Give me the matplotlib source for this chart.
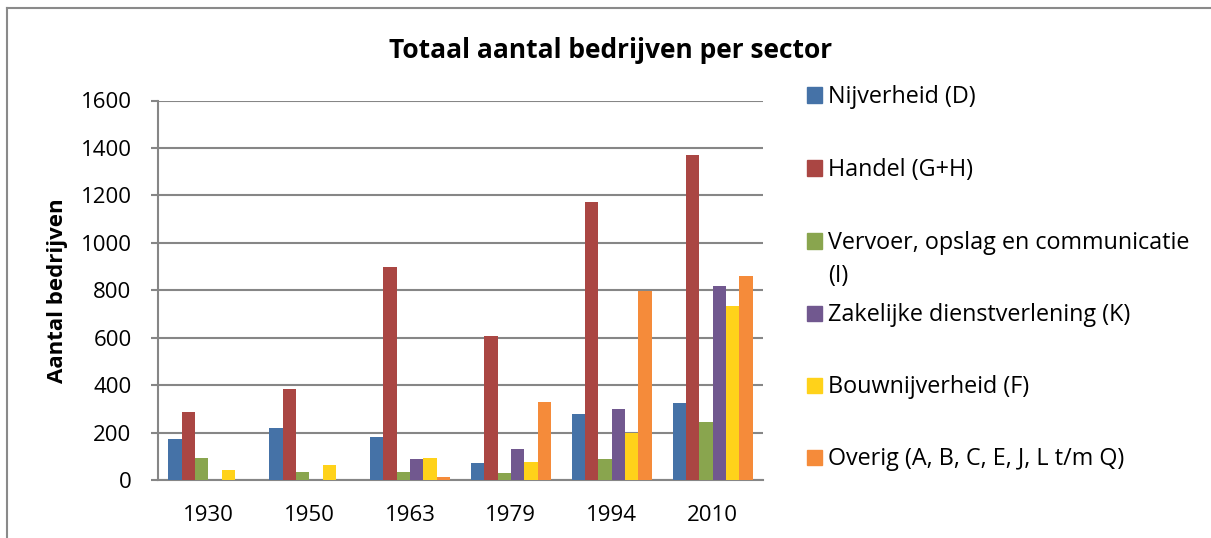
import matplotlib
matplotlib.use("Agg")
import matplotlib.pyplot as plt
from matplotlib.patches import Rectangle
from matplotlib.lines import Line2D
import numpy as np

years = ["1930", "1950", "1963", "1979", "1994", "2010"]
series_names = [
    "Nijverheid (D)",
    "Handel (G+H)",
    "Vervoer, opslag en communicatie\n(I)",
    "Zakelijke dienstverlening (K)",
    "Bouwnijverheid (F)",
    "Overig (A, B, C, E, J, L t/m Q)",
]
nijverheid = [173, 220, 183, 72, 280, 325]
handel = [287, 383, 897, 606, 1171, 1370]
vervoer = [94, 34, 34, 31, 89, 245]
zakelijk = [2, 0, 87, 130, 300, 818]
bouw = [42, 62, 92, 76, 200, 735]
overig = [0, 0, 14, 328, 797, 860]
y_ticks = [0, 200, 400, 600, 800, 1000, 1200, 1400, 1600]

colors = ["#4572A7", "#AA4643", "#89A54E", "#71588F", "#FFD21A", "#F58B3A"]
series = [nijverheid, handel, vervoer, zakelijk, bouw, overig]

W, H = 1211, 538
plt.rcParams['font.family'] = ['Open Sans', 'DejaVu Sans']
fig = plt.figure(figsize=(W / 100, H / 100), dpi=100)

def px(x, y):
    return x / W, 1 - y / H

# outer frame (left and top edges visible)
fig.add_artist(Line2D([7 / W, 7 / W], [0, 1 - 8 / H], color="#8a8a8a", lw=1.5))
fig.add_artist(Line2D([7 / W, 1], [1 - 8 / H, 1 - 8 / H], color="#8a8a8a", lw=1.5))

ax_l, ax_r, ax_t, ax_b = 158, 763, 100.5, 480
ax = fig.add_axes([ax_l / W, 1 - ax_b / H, (ax_r - ax_l) / W, (ax_b - ax_t) / H])

x = np.arange(len(years))
bw = 0.132
for i, (vals, c) in enumerate(zip(series, colors)):
    ax.bar(x + (i - 2.5) * bw, vals, width=bw, color=c, edgecolor="none", zorder=3)

ax.set_xlim(-0.5, len(years) - 0.5)
ax.set_ylim(0, 1600)
ax.set_yticks(y_ticks)
ax.set_yticklabels([str(v) for v in y_ticks], fontsize=16)
ax.set_xticks(x)
ax.set_xticklabels(years, fontsize=16)
ax.yaxis.grid(True, color="#868686", lw=1.5, zorder=0)
for s in ["top", "right"]:
    ax.spines[s].set_visible(False)
for s in ["left", "bottom"]:
    ax.spines[s].set_color("#868686")
    ax.spines[s].set_linewidth(1.5)
ax.tick_params(axis="y", length=5, width=1.5, color="#868686", pad=14)
ax.tick_params(axis="x", length=0, pad=18)
ax.set_ylabel("Aantal bedrijven", fontsize=16, fontweight="bold")
ax.yaxis.label.set_va("center")
ax.yaxis.set_label_coords((57 - ax_l) / (ax_r - ax_l), 0.5)

fig.text(*px(611, 58), "Totaal aantal bedrijven per sector", fontsize=19,
         fontweight="bold", ha="center", va="baseline")

# legend
leg_c = [95, 168, 241, 313, 385, 457]
for name, c, yy in zip(series_names, colors, leg_c):
    fig.add_artist(Rectangle(px(807, yy + 7.5), 15 / W, 15 / H, color=c,
                             transform=fig.transFigure))
    for k, line in enumerate(name.split("\n")):
        fig.text(*px(828, yy + 8 + 33 * k), line, fontsize=16.8, ha="left",
                 va="baseline")

fig.savefig("out.png", dpi=100)
